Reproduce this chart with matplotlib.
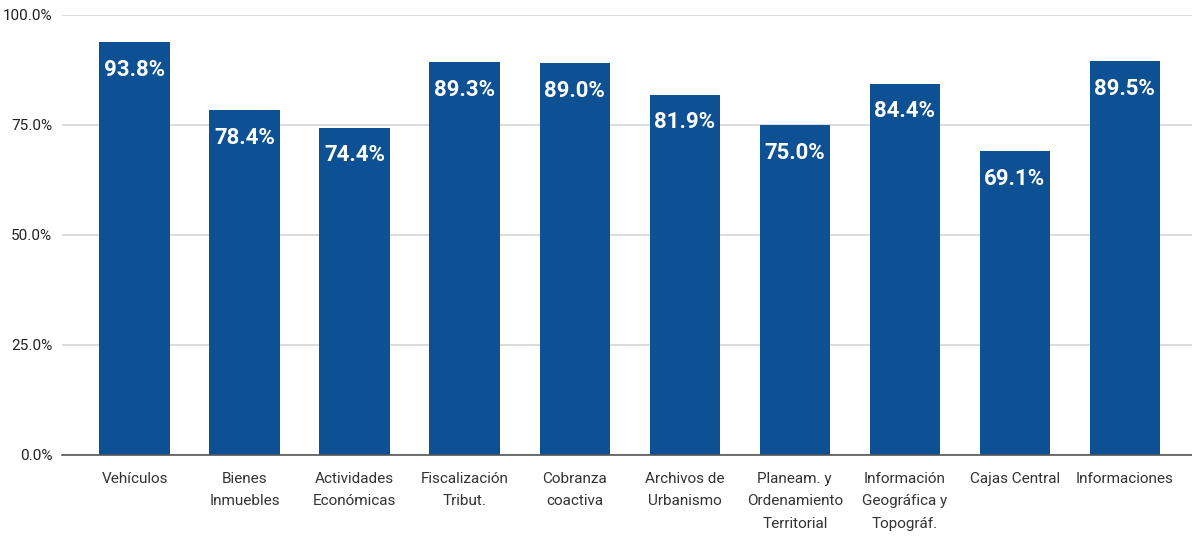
import matplotlib.pyplot as plt
from matplotlib.ticker import FuncFormatter

categories = ['Vehículos', 'Bienes\nInmuebles', 'Actividades\nEconómicas', 'Fiscalización\nTribut.',
              'Cobranza\ncoactiva', 'Archivos de\nUrbanismo', 'Planeam. y\nOrdenamiento\nTerritorial',
              'Información\nGeográfica y\nTopográf.', 'Cajas Central', 'Informaciones']
values = [93.8, 78.4, 74.4, 89.3, 89.0, 81.9, 75.0, 84.4, 69.1, 89.5]

plt.rcParams['font.family'] = ['Roboto', 'DejaVu Sans']

fig = plt.figure(figsize=(11.92, 5.4), dpi=100)
ax = fig.add_axes([62 / 1192, 1 - 455 / 540, 1 - 62 / 1192, 440 / 540])

x = range(len(categories))
ax.bar(x, values, width=0.64, color='#0d5194', zorder=3)
for i, v in zip(x, values):
    ax.annotate(f'{v:.1f}%', (i, v), xytext=(0, -12), textcoords='offset points',
                ha='center', va='top', color='white', fontsize=16, fontweight='bold', zorder=4)

ax.set_ylim(0, 100)
ax.set_xlim(-0.66, 9.61)
ax.set_yticks([0, 25, 50, 75, 100])
ax.yaxis.set_major_formatter(FuncFormatter(lambda v, p: f'{v:.1f}%'))
ax.grid(axis='y', color='#d6d6d6', linewidth=1.2, zorder=0)
ax.set_xticks(list(x))
ax.set_xticklabels(categories, fontsize=11, color='#333333', linespacing=1.8)
ax.tick_params(axis='y', labelsize=11, labelcolor='#222222', length=0, pad=7)
ax.tick_params(axis='x', length=0, pad=12)
for s in ['top', 'right', 'left']:
    ax.spines[s].set_visible(False)
ax.spines['bottom'].set_color('#555555')
ax.spines['bottom'].set_linewidth(1.2)
ax.spines['bottom'].set_zorder(5)

fig.savefig('out.png', dpi=100)
